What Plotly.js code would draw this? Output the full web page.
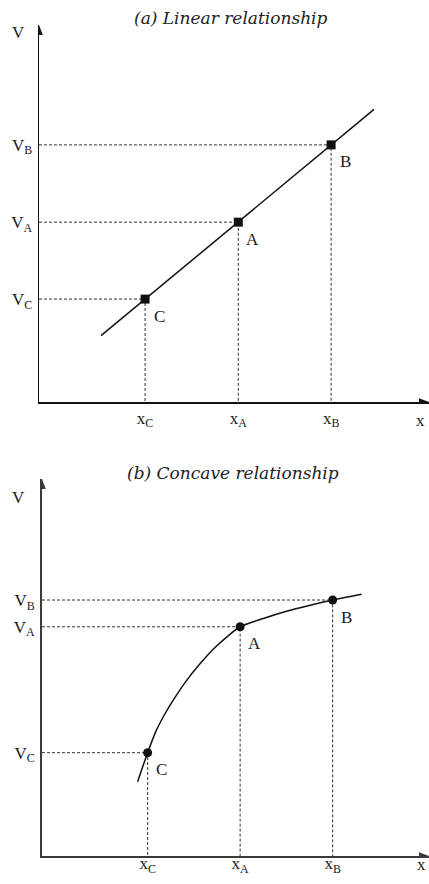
<!DOCTYPE html>
<html>
<head>
<meta charset="utf-8">
<script src="https://cdn.plot.ly/plotly-3.0.1.min.js"></script>
<style>html,body{margin:0;padding:0;background:#fff;}</style>
</head>
<body>
<div id="chart" style="width:429px;height:884px;"></div>
<script>
// ---- data ----
const pointNames = ['C', 'A', 'B'];

// (a) linear relationship
const linX = [2.72, 5.11, 7.49];
const linV = [2.73, 4.77, 6.82];
const linLineX = [1.59, 8.59];
const linLineV = [1.76, 7.76];

// (b) concave relationship
const cavX = [2.73, 5.12, 7.51];
const cavV = [2.74, 6.08, 6.79];
const cavCurveX = [2.47, 2.73, 2.94, 3.16, 3.42, 3.71, 4.06, 4.45, 4.81, 5.12, 5.72, 6.32, 6.93, 7.51, 8.26];
const cavCurveV = [1.97, 2.74, 3.30, 3.74, 4.18, 4.62, 5.07, 5.51, 5.84, 6.08, 6.30, 6.49, 6.65, 6.79, 6.94];

const panelTitles = ['(a) Linear relationship', '(b) Concave relationship'];
const xName = 'x', vName = 'V';

// ---- page geometry ----
const W = 429, H = 884;
const RANGE_X = [0, 10], RANGE_V = [0, 10];
const frames = [
  {l: 39, r: 429, t: 25, b: 402, axisColor: '#111', axisWidth: 1.5},
  {l: 42, r: 429, t: 479, b: 856, axisColor: '#3a3a3a', axisWidth: 2}
];
const LABEL_FONT = {family: 'Liberation Serif, serif', size: 17, color: '#1a1a1a'};
const TITLE_FONT = {family: 'DejaVu Serif, serif', size: 17, color: '#222'};

const px2paperX = p => p / W;
const px2paperY = p => 1 - p / H;

const traces = [];
const annotations = [];
const shapes = [];
const layout = {
  width: W, height: H,
  margin: {l: 0, r: 0, t: 0, b: 0},
  paper_bgcolor: '#fff', plot_bgcolor: 'rgba(0,0,0,0)',
  showlegend: false, hovermode: false,
  annotations, shapes
};

function guideTrace(xs, vs, xa, ya) {
  const gx = [], gy = [];
  xs.forEach((x, i) => {
    gx.push(RANGE_X[0], x, x, null);
    gy.push(vs[i], vs[i], RANGE_V[0], null);
  });
  return {x: gx, y: gy, xaxis: xa, yaxis: ya, mode: 'lines',
          line: {color: '#333', width: 1, dash: '3px,2px'}, connectgaps: false};
}

function buildPanel(k, xs, vs, lineX, lineV, shape, symbol, tickStandoffX) {
  const f = frames[k];
  const xa = k === 0 ? 'x' : 'x2', ya = k === 0 ? 'y' : 'y2';
  const xKey = k === 0 ? 'xaxis' : 'xaxis2', yKey = k === 0 ? 'yaxis' : 'yaxis2';
  const pxPerX = (f.r - f.l) / (RANGE_X[1] - RANGE_X[0]);
  const pxPerV = (f.b - f.t) / (RANGE_V[1] - RANGE_V[0]);

  traces.push(guideTrace(xs, vs, xa, ya));
  traces.push({x: lineX, y: lineV, xaxis: xa, yaxis: ya, mode: 'lines',
               line: {color: '#111', width: 1.5, shape: shape, smoothing: 0.8}});
  traces.push({x: xs, y: vs, xaxis: xa, yaxis: ya, mode: 'markers', cliponaxis: false,
               marker: {symbol: symbol, size: 9, color: '#111'}});

  const base = {showgrid: false, zeroline: false, showline: true, ticks: '',
                linecolor: f.axisColor, linewidth: f.axisWidth,
                tickfont: LABEL_FONT, fixedrange: true};
  layout[xKey] = Object.assign({}, base, {
    domain: [px2paperX(f.l), px2paperX(f.r)], range: RANGE_X,
    anchor: ya, tickvals: xs, ticktext: pointNames.map(n => 'x<sub>' + n + '</sub>'),
    ticklabelstandoff: tickStandoffX
  });
  layout[yKey] = Object.assign({}, base, {
    domain: [px2paperY(f.b), px2paperY(f.t)], range: RANGE_V,
    anchor: xa, tickvals: vs, ticktext: pointNames.map(n => 'V<sub>' + n + '</sub>'),
    ticklabelstandoff: 2
  });

  // point labels, below-right of each point
  xs.forEach((x, i) => annotations.push({
    x: x, y: vs[i], xref: xa, yref: ya, text: pointNames[i], showarrow: false,
    xanchor: 'center', yanchor: 'middle', xshift: 14, yshift: -17, font: LABEL_FONT
  }));

  // arrowheads at the ends of both axes
  const ax = RANGE_X[1], av = RANGE_V[1];
  const len = 10, half = 3.8;
  shapes.push({type: 'path', xref: xa, yref: ya, fillcolor: f.axisColor, line: {width: 0},
    path: `M${RANGE_X[0]},${av} L${RANGE_X[0] - half / pxPerX},${av - len / pxPerV} L${RANGE_X[0] + half / pxPerX},${av - len / pxPerV} Z`});
  shapes.push({type: 'path', xref: xa, yref: ya, fillcolor: f.axisColor, line: {width: 0},
    path: `M${ax},${RANGE_V[0]} L${ax - len / pxPerX},${RANGE_V[0] + half / pxPerV} L${ax - len / pxPerX},${RANGE_V[0] - half / pxPerV} Z`});
}

buildPanel(0, linX, linV, linLineX, linLineV, 'linear', 'square', 0);
buildPanel(1, cavX, cavV, cavCurveX, cavCurveV, 'spline', 'circle', -9);

// axis names and panel titles
const textItems = [
  {text: vName, px: 18, py: 33},
  {text: xName, px: 420, py: 420},
  {text: vName, px: 18, py: 497},
  {text: xName, px: 421, py: 864}
];
textItems.forEach(t => annotations.push({
  x: px2paperX(t.px), y: px2paperY(t.py), xref: 'paper', yref: 'paper',
  text: t.text, showarrow: false, xanchor: 'center', yanchor: 'middle', font: LABEL_FONT
}));
[[231, 18], [233, 473]].forEach((p, i) => annotations.push({
  x: px2paperX(p[0]), y: px2paperY(p[1]), xref: 'paper', yref: 'paper',
  text: '<i>' + panelTitles[i] + '</i>', showarrow: false,
  xanchor: 'center', yanchor: 'middle', font: TITLE_FONT
}));

Plotly.newPlot('chart', traces, layout, {displayModeBar: false, staticPlot: true});
</script>
</body>
</html>
